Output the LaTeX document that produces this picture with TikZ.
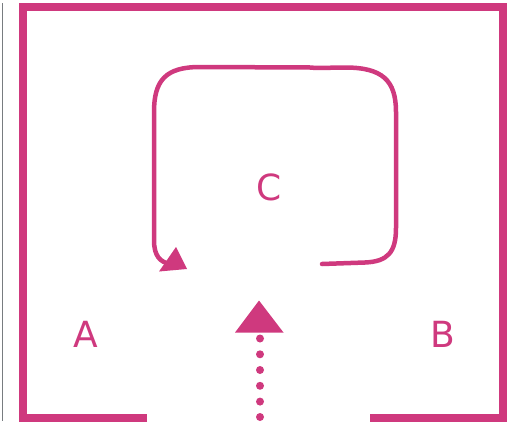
\documentclass[tikz,border=0pt]{standalone}
\usepackage{fontspec}
\setmainfont{DejaVu Sans}
\definecolor{pinkc}{RGB}{207,57,126}
\definecolor{grayl}{RGB}{120,124,128}
\begin{document}
\begin{tikzpicture}[x=1pt,y=-1pt,
  frame/.style={draw=pinkc,line width=8pt},
  loopline/.style={draw=pinkc,line width=4.5pt,line cap=round},
  lbl/.style={text=pinkc,inner sep=0pt,font=\fontsize{36}{36}\selectfont},
  dotc/.style={fill=pinkc}]
\useasboundingbox (0,0) rectangle (509,423);
% gray line
\draw[grayl,line width=1.2pt] (2.7,3) -- (2.7,421);
% frame
\coordinate (bl1) at (147,417.5);
\coordinate (br1) at (370,417.5);
\draw[frame,line join=miter] (bl1) -- (23.3,417.5) -- (23.3,7) -- (503.3,7) -- (503.3,417.5) -- (br1);
% labels
\node[lbl] (A) at (86,334) {A};
\node[lbl] (B) at (443,334) {B};
\node[lbl] (C) at (269,187) {C};
% loop
\coordinate (ls) at (322,264);
\coordinate (le) at (170,264);
\draw[loopline] (ls) -- (365,262.5) .. controls (388,261.5) and (396,252) .. (396,228)
  -- (396,112) .. controls (396,80) and (382,67.5) .. (345,67.5)
  .. controls (330,67.5) and (320,68.5) .. (310,67.5)
  -- (200,67) .. controls (166,67) and (154,80) .. (154,112)
  -- (154,240) .. controls (154,256) and (160,262) .. (le);
\fill[pinkc] (159,271.5) -- (187,269) -- (176,247) -- cycle;
% dotted arrow
\coordinate (tt) at (259,300.5);
\fill[pinkc] (tt) -- (283.5,332.5) -- (235,332.5) -- cycle;
\foreach \y in {338.5,354.3,370,385.8,401.6,417} {\fill[pinkc] (260,\y) circle (4pt);}
\end{tikzpicture}
\end{document}
